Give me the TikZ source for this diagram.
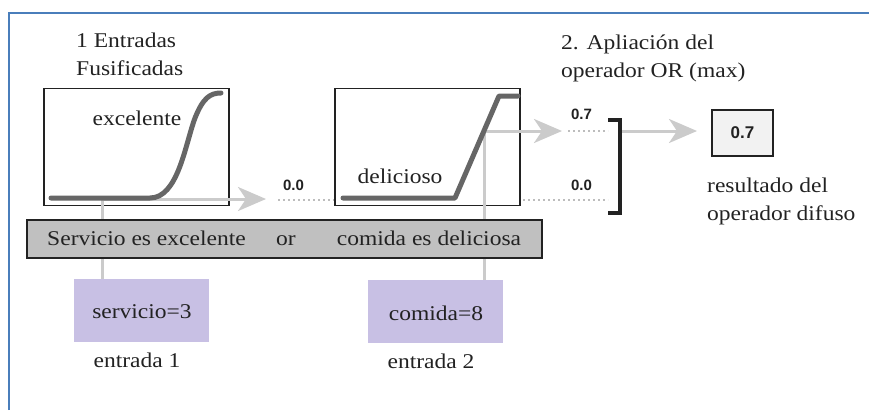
\documentclass[tikz,border=0pt]{standalone}
\usepackage{fontspec}
\setmainfont{Liberation Serif}[FakeStretch=1.12]
\newfontfamily\numfont{Liberation Sans}
\usetikzlibrary{arrows.meta}
\definecolor{frameblue}{HTML}{4A7EBB}
\definecolor{curvegray}{HTML}{666666}
\definecolor{arrowgray}{HTML}{CBCBCB}
\definecolor{bargray}{HTML}{C0C0C0}
\definecolor{lilac}{HTML}{C8C0E4}
\definecolor{dotgray}{HTML}{BDBDBD}
\definecolor{ink}{HTML}{222222}
\begin{document}
\begin{tikzpicture}[x=1pt,y=-1pt,
  font=\fontsize{21}{28}\selectfont, text=ink,
  mfbox/.style={draw=ink, fill=white, line width=1.2pt, minimum width=185pt, minimum height=117pt, inner sep=0pt},
  mfcurve/.style={curvegray, line width=5pt, line cap=round, line join=round},
  gline/.style={arrowgray, line width=3pt},
  garrow/.style={gline, -{Stealth[length=28pt,width=24pt,inset=8pt]}},
  dots/.style={dotgray, line width=1.6pt, dash pattern=on 2pt off 3pt},
  val/.style={font=\numfont\bfseries\fontsize{15}{17}\selectfont, text=ink, inner sep=0pt, anchor=base},
  txt/.style={inner sep=0pt, anchor=base},
  lbl/.style={align=left, inner sep=0pt, anchor=base west},
  inbox/.style={fill=lilac, minimum width=135pt, minimum height=63pt, inner sep=0pt},
]
\useasboundingbox (0,0) rectangle (869,410);
% frame
\draw[frameblue, line width=2pt] (9,410) -- (9,13) -- (869,13);

% headings (base = baseline of last line)
\node[lbl] (h1) at (76,75) {1 Entradas\\Fusificadas};
\node[lbl] (h2) at (561,77) {2. Apliación del\\operador OR (max)};

% dotted level lines
\draw[dots] (278,200) -- (608,200);
\draw[dots] (568,131) -- (608,131);

% membership function boxes
\node[mfbox] (b1) at (136.5,147) {};
\node[mfbox] (b2) at (427.5,147) {};

% gray connectors
\coordinate (p1) at (102,198);
\coordinate (t1) at (266,199);
\coordinate (p2) at (484.5,131);
\coordinate (t2) at (562,131);
\draw[gline] (p1) -- (102,280);
\draw[garrow] (p1 |- t1) -- (t1);
\draw[gline] (p2) -- (484.5,280);
\draw[garrow] (p2) -- (t2);

% curves
\draw[mfcurve] (51,198) -- (150,198) .. controls (178,198) and (185,145) .. (195,118) .. controls (203,98) and (210,93) .. (221,93);
\draw[mfcurve] (343,198) -- (455,198) -- (499,96) -- (518,96);

\node[txt] (ex) at (137,125) {excelente};
\node[txt] (de) at (400,183) {delicioso};

% values
\node[val] (v1) at (293.5,190) {0.0};
\node[val] (v2) at (581.5,119) {0.7};
\node[val] (v3) at (581.5,190) {0.0};

% bracket
\draw[ink, line width=4pt, line join=miter] (608,120) -- (620,120) -- (620,213) -- (608,213);
\coordinate (br) at (622,131);

% result
\node[draw=ink, fill=black!5, line width=1.4pt, minimum width=61pt, minimum height=46pt, inner sep=0pt, font=\numfont\bfseries\fontsize{17}{20}\selectfont] (res) at (742.5,133) {0.7};
\coordinate (t3) at (697,131);
\draw[garrow] (br) -- (t3);
\node[lbl] (rl) at (707,220) {resultado del\\operador difuso};

% rule bar
\node[draw=ink, fill=bargray, line width=1.4pt, minimum width=515pt, minimum height=38pt, inner sep=0pt] (bar) at (284.5,239) {};
\node[txt] (s1) at (146.5,245) {Servicio es excelente};
\node[txt] (or) at (286,245) {or};
\node[txt] (s2) at (429,245) {comida es deliciosa};

% inputs
\node[inbox] (in1) at (141.5,310.5) {};
\node[txt] (i1) at (142,318) {servicio=3};
\node[inbox] (in2) at (435.5,311) {};
\node[txt] (i2) at (436,320) {comida=8};
\node[txt] (e1) at (137,367) {entrada 1};
\node[txt] (e2) at (431,368) {entrada 2};
\end{tikzpicture}
\end{document}
